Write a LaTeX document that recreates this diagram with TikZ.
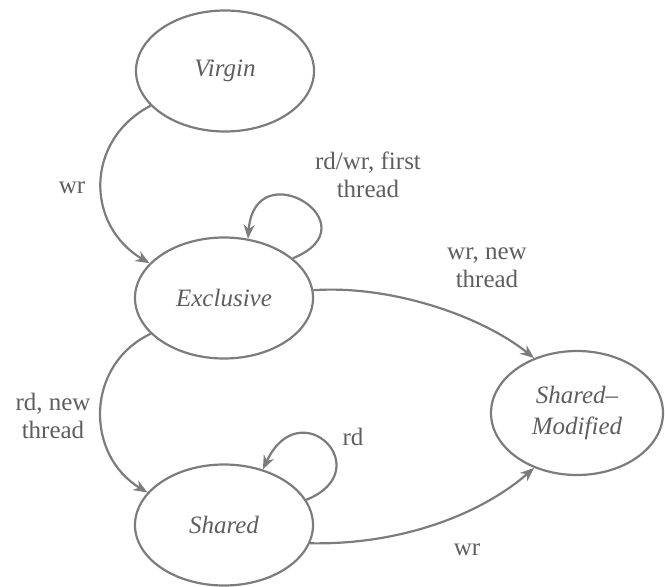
\documentclass[tikz,border=0pt]{standalone}
\usepackage{fontspec}
\setmainfont{Liberation Serif}
\usetikzlibrary{shapes.geometric,arrows.meta}
\definecolor{linegray}{HTML}{7C7C7C}
\definecolor{textgray}{HTML}{5E5E5E}
\begin{document}
\begin{tikzpicture}[x=1pt,y=-1pt,
  state/.style={ellipse, draw=linegray, line width=2.2pt, inner sep=0pt,
    minimum width=178pt, minimum height=121pt, text=textgray,
    font=\fontsize{25}{31}\selectfont\itshape, align=center},
  conn/.style={draw=linegray, line width=2.2pt, -{Stealth[length=14pt,width=11pt]}},
  lbl/.style={text=textgray, font=\fontsize{25}{28}\selectfont, align=center, inner sep=0pt}]
\useasboundingbox (0,0) rectangle (665,587);
\node[state] (V) at (225,71) {Virgin};
\node[state] (E) at (224,298) {Exclusive};
\node[state] (S) at (224,525) {Shared};
\node[state, minimum width=172pt, minimum height=124pt] (M) at (577,413) {Shared--\\Modified};

\draw[conn] (V.205) .. controls (85,140) and (85,225) .. (E.155);
\draw[conn] (E.30) .. controls (375,225) and (255,150) .. (E.68);
\draw[conn] (E.5) .. controls (390,285) and (480,315) .. (M.128);
\draw[conn] (E.206) .. controls (85,365) and (85,455) .. (S.157);
\draw[conn] (S.17) .. controls (380,470) and (300,390) .. (S.55);
\draw[conn] (S.-12) .. controls (400,545) and (480,515) .. (M.232);

\node[lbl] (l1) at (72,188) {wr};
\node[lbl] (l2) at (368,175) {rd/wr, first\\thread};
\node[lbl] (l3) at (487,268) {wr, new\\thread};
\node[lbl] (l4) at (53,416) {rd, new\\thread};
\node[lbl] (l5) at (353,437) {rd};
\node[lbl] (l6) at (467,550) {wr};
\end{tikzpicture}
\end{document}
